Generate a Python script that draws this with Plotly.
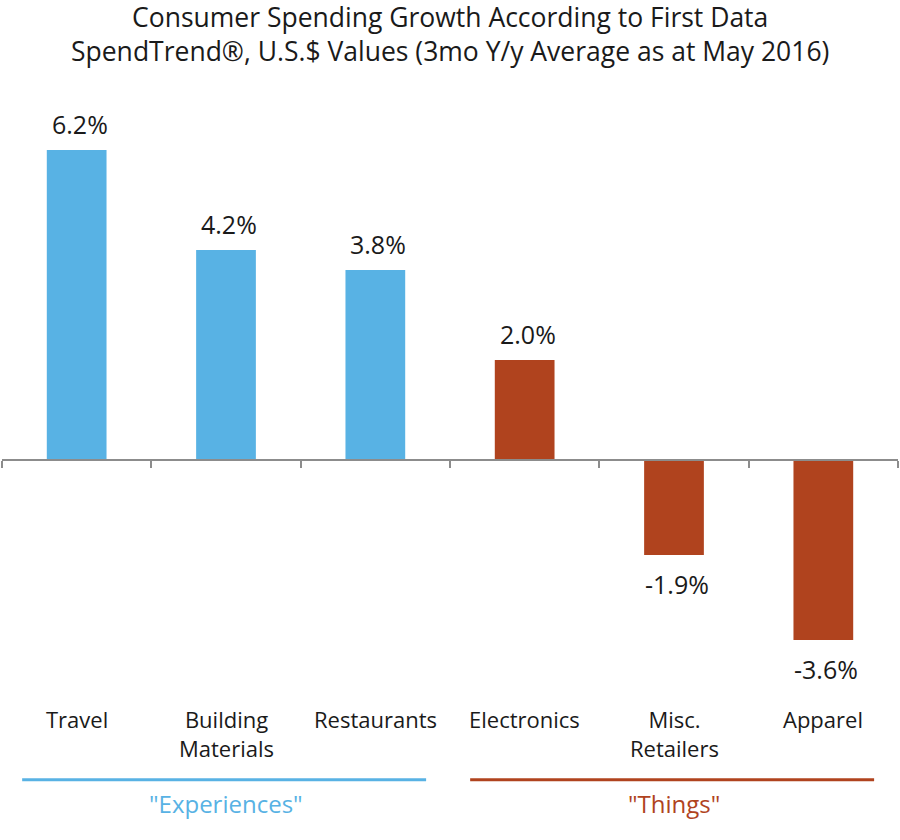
import plotly.graph_objects as go

categories = ["Travel", "Building Materials", "Restaurants", "Electronics", "Misc. Retailers", "Apparel"]
tick_labels = ["Travel", "Building<br>Materials", "Restaurants", "Electronics", "Misc.<br>Retailers", "Apparel"]
values = [6.2, 4.2, 3.8, 2.0, -1.9, -3.6]
groups = ["Experiences", "Experiences", "Experiences", "Things", "Things", "Things"]
group_names = ["Experiences", "Things"]
value_labels = ["6.2%", "4.2%", "3.8%", "2.0%", "-1.9%", "-3.6%"]
title_lines = ["Consumer Spending Growth According to First Data",
               "SpendTrend®, U.S.$ Values (3mo Y/y Average as at May 2016)"]

BLUE = "#58B2E4"
RUST = "#B0431E"
TEXT = "#1a1a1a"
group_colors = {"Experiences": BLUE, "Things": RUST}
FONT = "Open Sans"

ymin, ymax = -4.8, 7.2

fig = go.Figure()
fig.add_trace(go.Bar(
    x=categories, y=values,
    marker=dict(color=[group_colors[g] for g in groups], line=dict(width=0)),
    width=0.4,
    hoverinfo="skip",
))

annotations = []
# title (plot area spans 100..700 px)
annotations.append(dict(
    x=0.5, y=(700 - 34) / 600, xref="paper", yref="paper", text="<br>".join(title_lines),
    showarrow=False, xanchor="center", yanchor="middle",
    font=dict(family=FONT, size=26.5, color=TEXT),
))
for c, v, lab in zip(categories, values, value_labels):
    annotations.append(dict(
        x=c, y=v, xref="x", yref="y", text=lab, showarrow=False,
        font=dict(family=FONT, size=25, color=TEXT),
        yanchor="bottom" if v >= 0 else "top",
        yshift=7 if v >= 0 else -10,
        xshift=3,
    ))
for c, t in zip(categories, tick_labels):
    annotations.append(dict(
        x=c, y=0, xref="x", yref="paper", text=t, showarrow=False,
        font=dict(family=FONT, size=22, color=TEXT),
        yanchor="top", yshift=-2,
    ))

shapes = []
for gname in group_names:
    idx = [i for i, g in enumerate(groups) if g == gname]
    x0, x1 = idx[0] - 0.365, idx[-1] + 0.34
    shapes.append(dict(type="line", xref="x", yref="paper", x0=x0, x1=x1,
                       y0=-0.133, y1=-0.133, line=dict(color=group_colors[gname], width=3)))
    annotations.append(dict(
        x=(idx[0] + idx[-1]) / 2, y=-0.133, xref="x", yref="paper",
        text='"' + gname + '"', showarrow=False,
        font=dict(family=FONT, size=24, color=group_colors[gname]),
        yanchor="top", yshift=-5,
    ))

fig.update_layout(
    width=900, height=840,
    margin=dict(l=2, r=2, t=100, b=140),
    paper_bgcolor="white", plot_bgcolor="white",
    showlegend=False,
    xaxis=dict(
        type="category", range=[-0.5, 5.5],
        showticklabels=False, showgrid=False, zeroline=False,
        showline=True, linecolor="#8c8c8c", linewidth=2,
        ticks="outside", tickson="boundaries", ticklen=7, tickcolor="#8c8c8c", tickwidth=2,
        anchor="free", position=(0 - ymin) / (ymax - ymin),
    ),
    yaxis=dict(range=[ymin, ymax], visible=False, showgrid=False, zeroline=False),
    annotations=annotations,
    shapes=shapes,
)

fig.write_html("out.html")
